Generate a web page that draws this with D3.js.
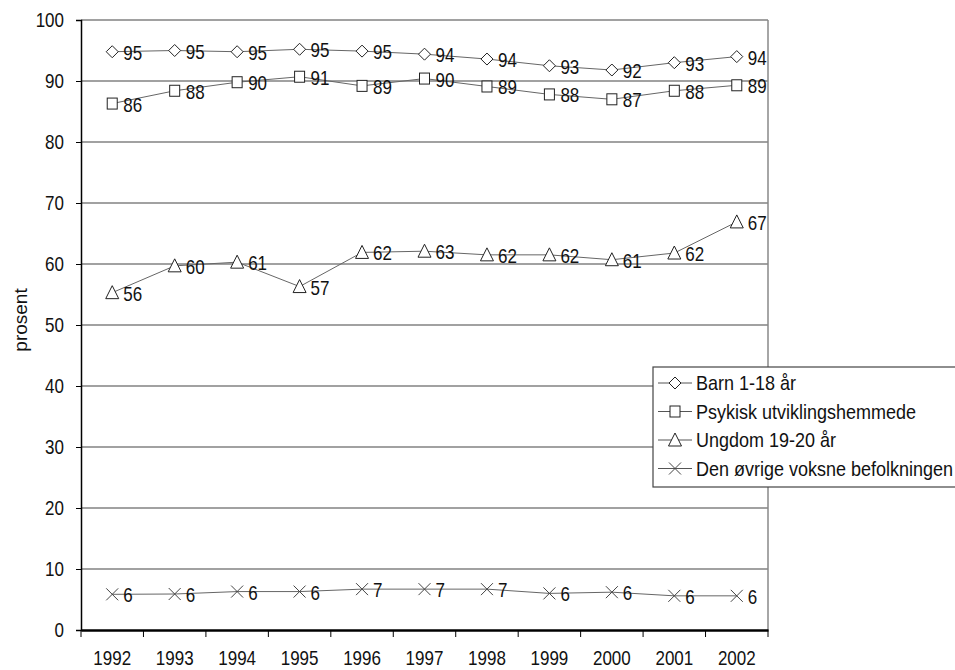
<!DOCTYPE html>
<html>
<head>
<meta charset="utf-8">
<script src="https://cdn.jsdelivr.net/npm/d3@7/dist/d3.min.js"></script>
<style>
body { margin: 0; background: #fff; }
svg { display: block; font-family: "Liberation Sans", Arial, sans-serif; }
.tick text { font-size: 20px; fill: #111; }
.lbl { font-size: 20px; fill: #111; }
.legend text { font-size: 20px; fill: #111; }
</style>
</head>
<body>
<svg width="955" height="670"></svg>
<script>
var years = ["1992","1993","1994","1995","1996","1997","1998","1999","2000","2001","2002"];

var barn = [94.8, 95.0, 94.8, 95.2, 94.9, 94.4, 93.6, 92.5, 91.8, 93.0, 94.0];
var psykisk = [86.3, 88.4, 89.8, 90.7, 89.2, 90.4, 89.1, 87.8, 87.0, 88.4, 89.3];
var ungdom = [55.3, 59.7, 60.3, 56.3, 61.9, 62.1, 61.5, 61.5, 60.7, 61.8, 66.9];
var ovrige = [5.85, 5.9, 6.3, 6.3, 6.7, 6.7, 6.7, 6.0, 6.2, 5.6, 5.6];

var barnLbl = [95, 95, 95, 95, 95, 94, 94, 93, 92, 93, 94];
var psykiskLbl = [86, 88, 90, 91, 89, 90, 89, 88, 87, 88, 89];
var ungdomLbl = [56, 60, 61, 57, 62, 63, 62, 62, 61, 62, 67];
var ovrigeLbl = [6, 6, 6, 6, 7, 7, 7, 6, 6, 6, 6];

var seriesNames = ["Barn 1-18 år", "Psykisk utviklingshemmede", "Ungdom 19-20 år", "Den øvrige voksne befolkningen"];
var yTicks = [0, 10, 20, 30, 40, 50, 60, 70, 80, 90, 100];

var series = [
  {name: seriesNames[0], values: barn, labels: barnLbl, marker: "diamond"},
  {name: seriesNames[1], values: psykisk, labels: psykiskLbl, marker: "square"},
  {name: seriesNames[2], values: ungdom, labels: ungdomLbl, marker: "triangle"},
  {name: seriesNames[3], values: ovrige, labels: ovrigeLbl, marker: "cross"}
];

var svg = d3.select("svg");
var m = {left: 81, right: 768, top: 20, bottom: 630};
var narrow = 0.85; // condensed look of the original font

var x = d3.scaleBand().domain(years).range([m.left, m.right]);
var y = d3.scaleLinear().domain([0, 100]).range([m.bottom, m.top]);

// condensed text at (tx, ty)
function ctext(parent, tx, ty, str, sx) {
  return parent.append("text")
    .attr("transform", "translate(" + tx + "," + ty + ") scale(" + (sx || narrow) + ",1)")
    .text(str);
}

// gridlines
svg.append("g")
  .selectAll("line")
  .data(yTicks.filter(function(d) { return d > 0; }))
  .enter().append("line")
  .attr("x1", m.left).attr("x2", m.right)
  .attr("y1", function(d) { return y(d); })
  .attr("y2", function(d) { return y(d); })
  .attr("stroke", "#444")
  .attr("stroke-width", 1.2);

// right border
svg.append("line")
  .attr("x1", m.right).attr("x2", m.right)
  .attr("y1", m.top).attr("y2", m.bottom)
  .attr("stroke", "#888").attr("stroke-width", 1.5);

// y axis
var yAxis = svg.append("g")
  .attr("transform", "translate(" + m.left + ",0)")
  .call(d3.axisLeft(y).tickValues(yTicks).tickSize(5).tickPadding(15));
yAxis.select(".domain").attr("stroke", "#000").attr("stroke-width", 1.5);
yAxis.selectAll(".tick line").attr("stroke", "#000");
yAxis.selectAll(".tick text").attr("transform", "scale(" + narrow + ",1)");

// x axis
var xAxis = svg.append("g")
  .attr("transform", "translate(0," + m.bottom + ")")
  .call(d3.axisBottom(x).tickSize(0).tickPadding(21));
xAxis.select(".domain").attr("stroke", "#000").attr("stroke-width", 2.5);
xAxis.selectAll(".tick text").attr("dy", "0.71em").attr("transform", "scale(" + narrow + ",1)");
svg.append("g")
  .selectAll("line")
  .data(years.concat(["end"]))
  .enter().append("line")
  .attr("x1", function(d, i) { return m.left + i * x.step(); })
  .attr("x2", function(d, i) { return m.left + i * x.step(); })
  .attr("y1", m.bottom).attr("y2", m.bottom + 7)
  .attr("stroke", "#000").attr("stroke-width", 1);

svg.append("text")
  .attr("transform", "translate(27,320) rotate(-90)")
  .attr("text-anchor", "middle")
  .style("font-size", "19px")
  .attr("fill", "#111")
  .text("prosent");

function drawMarker(g, type) {
  if (type === "diamond") {
    g.append("path").attr("d", "M0,-6L6,0L0,6L-6,0Z")
      .attr("fill", "#fff").attr("stroke", "#222").attr("stroke-width", 1);
  } else if (type === "square") {
    g.append("rect").attr("x", -5).attr("y", -5.5).attr("width", 10).attr("height", 11)
      .attr("fill", "#fff").attr("stroke", "#222").attr("stroke-width", 1);
  } else if (type === "triangle") {
    g.append("path").attr("d", "M0,-7L6.5,6L-6.5,6Z")
      .attr("fill", "#fff").attr("stroke", "#222").attr("stroke-width", 1);
  } else {
    g.append("path").attr("d", "M-6,-6L6,6M-6,6L6,-6")
      .attr("fill", "none").attr("stroke", "#444").attr("stroke-width", 1);
  }
}

var line = d3.line()
  .x(function(d, i) { return x(years[i]) + x.bandwidth() / 2; })
  .y(function(d) { return y(d); });

series.forEach(function(s) {
  svg.append("path")
    .datum(s.values)
    .attr("fill", "none")
    .attr("stroke", "#666")
    .attr("stroke-width", 1)
    .attr("d", line);

  s.values.forEach(function(v, i) {
    var cx = x(years[i]) + x.bandwidth() / 2, cy = y(v);
    var g = svg.append("g").attr("transform", "translate(" + cx + "," + cy + ")");
    drawMarker(g, s.marker);
    ctext(svg, cx + 11, cy + 1, s.labels[i])
      .attr("class", "lbl")
      .attr("dy", "0.35em");
  });
});

// legend
var lg = svg.append("g").attr("class", "legend");
lg.append("rect")
  .attr("x", 653).attr("y", 367).attr("width", 320).attr("height", 120)
  .attr("fill", "#fff").attr("stroke", "#444").attr("stroke-width", 1.2);
series.forEach(function(s, i) {
  var ly = 383 + i * 28.5;
  lg.append("line").attr("x1", 658).attr("x2", 692).attr("y1", ly).attr("y2", ly)
    .attr("stroke", "#555").attr("stroke-width", 1);
  var g = lg.append("g").attr("transform", "translate(675," + ly + ")");
  drawMarker(g, s.marker);
  ctext(lg, 696, ly, s.name, 0.9).attr("dy", "0.35em");
});
</script>
</body>
</html>
